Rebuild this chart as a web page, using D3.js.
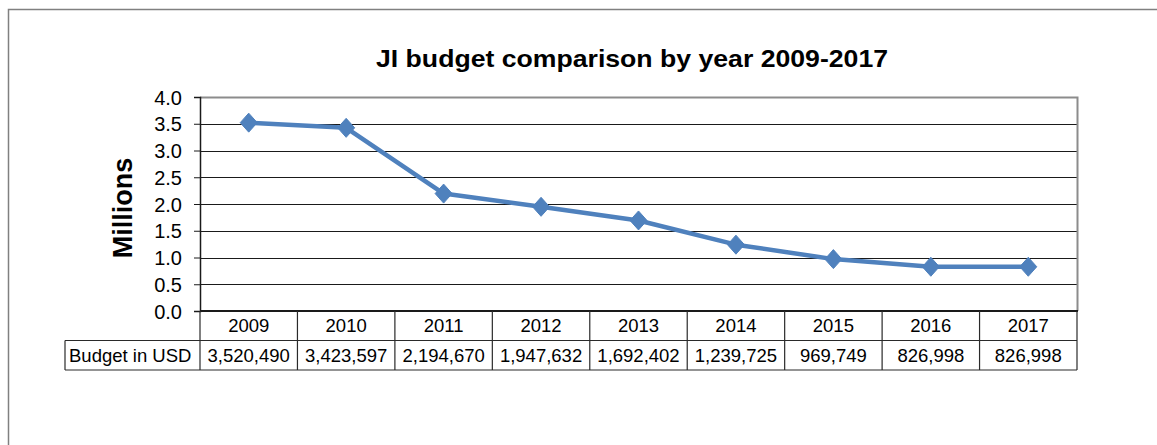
<!DOCTYPE html>
<html>
<head>
<meta charset="utf-8">
<script src="https://cdn.jsdelivr.net/npm/d3@7"></script>
<style>
  html, body { margin: 0; padding: 0; background: #fff; }
  svg { display: block; font-family: "Liberation Sans", Arial, sans-serif; }
</style>
</head>
<body>
<div id="chart"></div>
<script>
const years = ['2009', '2010', '2011', '2012', '2013', '2014', '2015', '2016', '2017'];
const budgetUsd = [3520490, 3423597, 2194670, 1947632, 1692402, 1239725, 969749, 826998, 826998];
const yTicks = [0, 0.5, 1, 1.5, 2, 2.5, 3, 3.5, 4];
const rowLabel = 'Budget in USD';
const title = 'JI budget comparison by year 2009-2017';
const yTitle = 'Millions';

const width = 1157, height = 445;
const plot = { left: 200, right: 1077, top: 97, bottom: 311 };
const rowH = 29.5;
const lineColor = '#4f81bd';
const tableFont = 18.5;

const svg = d3.select('#chart').append('svg')
    .attr('width', width)
    .attr('height', height);

// outer chart frame (runs past the right and bottom edges)
svg.append('rect')
    .attr('x', 8.5).attr('y', 9.5)
    .attr('width', width + 20).attr('height', height + 20)
    .attr('fill', 'none')
    .attr('stroke', '#808080')
    .attr('stroke-width', 1.5);

svg.append('text')
    .attr('x', 376).attr('y', 67)
    .attr('font-size', 24.5)
    .attr('font-weight', 'bold')
    .attr('textLength', 512)
    .attr('lengthAdjust', 'spacingAndGlyphs')
    .text(title);

const x = d3.scaleBand()
    .domain(years)
    .range([plot.left, plot.right]);
const y = d3.scaleLinear()
    .domain([0, 4])
    .range([plot.bottom, plot.top]);

// gridlines
svg.append('g')
    .selectAll('line')
    .data(yTicks.filter(t => t > 0 && t < 4))
    .join('line')
    .attr('x1', plot.left).attr('x2', plot.right)
    .attr('y1', d => Math.round(y(d)) + 0.5)
    .attr('y2', d => Math.round(y(d)) + 0.5)
    .attr('stroke', '#1a1a1a')
    .attr('stroke-width', 1);

// plot area border (top and right grey)
svg.append('path')
    .attr('d', `M${plot.left},${plot.top + 0.5}H${plot.right + 0.5}V${plot.bottom}`)
    .attr('fill', 'none')
    .attr('stroke', '#8c8c8c')
    .attr('stroke-width', 2);

// y axis
const yAxis = d3.axisLeft(y)
    .tickValues(yTicks)
    .tickFormat(d3.format('.1f'))
    .tickSize(6)
    .tickPadding(12);
const ga = svg.append('g')
    .attr('transform', `translate(${plot.left},0)`)
    .call(yAxis);
ga.select('.domain').attr('stroke', '#1a1a1a').attr('stroke-width', 1.5);
ga.selectAll('.tick line').attr('stroke', '#1a1a1a');
ga.selectAll('.tick text')
    .attr('font-size', 20)
    .attr('fill', '#000')
    .attr('font-family', '"Liberation Sans", Arial, sans-serif')
    .attr('dy', '0.35em');

svg.append('text')
    .attr('transform', `translate(132,208) rotate(-90)`)
    .attr('text-anchor', 'middle')
    .attr('font-size', 27)
    .attr('font-weight', 'bold')
    .text(yTitle);

// x axis line (plot bottom)
svg.append('line')
    .attr('x1', plot.left).attr('x2', plot.right + 1)
    .attr('y1', plot.bottom).attr('y2', plot.bottom)
    .attr('stroke', '#1a1a1a')
    .attr('stroke-width', 2);

// data line
const pts = years.map((yr, i) => ({ yr, v: budgetUsd[i] / 1e6 }));
svg.append('path')
    .datum(pts)
    .attr('fill', 'none')
    .attr('stroke', lineColor)
    .attr('stroke-width', 4.5)
    .attr('stroke-linejoin', 'round')
    .attr('d', d3.line()
        .x(d => x(d.yr) + x.bandwidth() / 2)
        .y(d => y(d.v)));

svg.append('g')
    .selectAll('path')
    .data(pts)
    .join('path')
    .attr('transform', d => `translate(${x(d.yr) + x.bandwidth() / 2},${y(d.v)})`)
    .attr('d', 'M0,-9.5L8.5,0L0,9.5L-8.5,0Z')
    .attr('fill', lineColor)
    .attr('stroke', lineColor)
    .attr('stroke-width', 1);

// data table
const fmt = d3.format(',');
const tbl = svg.append('g');
const r1 = plot.bottom, r2 = plot.bottom + rowH, r3 = plot.bottom + 2 * rowH;
const labelLeft = 65;

// horizontal lines
tbl.append('line').attr('x1', plot.left).attr('x2', plot.right)
    .attr('y1', r2).attr('y2', r2);
tbl.append('line').attr('x1', labelLeft).attr('x2', plot.right)
    .attr('y1', r3).attr('y2', r3);
tbl.append('line').attr('x1', labelLeft).attr('x2', plot.left)
    .attr('y1', r2).attr('y2', r2);
// vertical lines
tbl.append('line').attr('x1', labelLeft).attr('x2', labelLeft)
    .attr('y1', r2).attr('y2', r3);
tbl.selectAll('line.col')
    .data(years.map(yr => x(yr)).concat([plot.right]))
    .join('line')
    .attr('class', 'col')
    .attr('x1', d => d).attr('x2', d => d)
    .attr('y1', r1).attr('y2', r3);
tbl.selectAll('line')
    .attr('stroke', '#2a2a2a')
    .attr('stroke-width', 1.2);

tbl.selectAll('text.yr')
    .data(years)
    .join('text')
    .attr('class', 'yr')
    .attr('x', d => x(d) + x.bandwidth() / 2)
    .attr('y', r1 + rowH / 2)
    .attr('dy', '0.36em')
    .attr('text-anchor', 'middle')
    .attr('font-size', tableFont)
    .text(d => d);

tbl.selectAll('text.val')
    .data(pts)
    .join('text')
    .attr('class', 'val')
    .attr('x', d => x(d.yr) + x.bandwidth() / 2)
    .attr('y', r2 + rowH / 2)
    .attr('dy', '0.36em')
    .attr('text-anchor', 'middle')
    .attr('font-size', tableFont)
    .text(d => fmt(Math.round(d.v * 1e6)));

tbl.append('text')
    .attr('x', labelLeft + 4)
    .attr('y', r2 + rowH / 2)
    .attr('dy', '0.36em')
    .attr('font-size', tableFont)
    .text(rowLabel);
</script>
</body>
</html>
